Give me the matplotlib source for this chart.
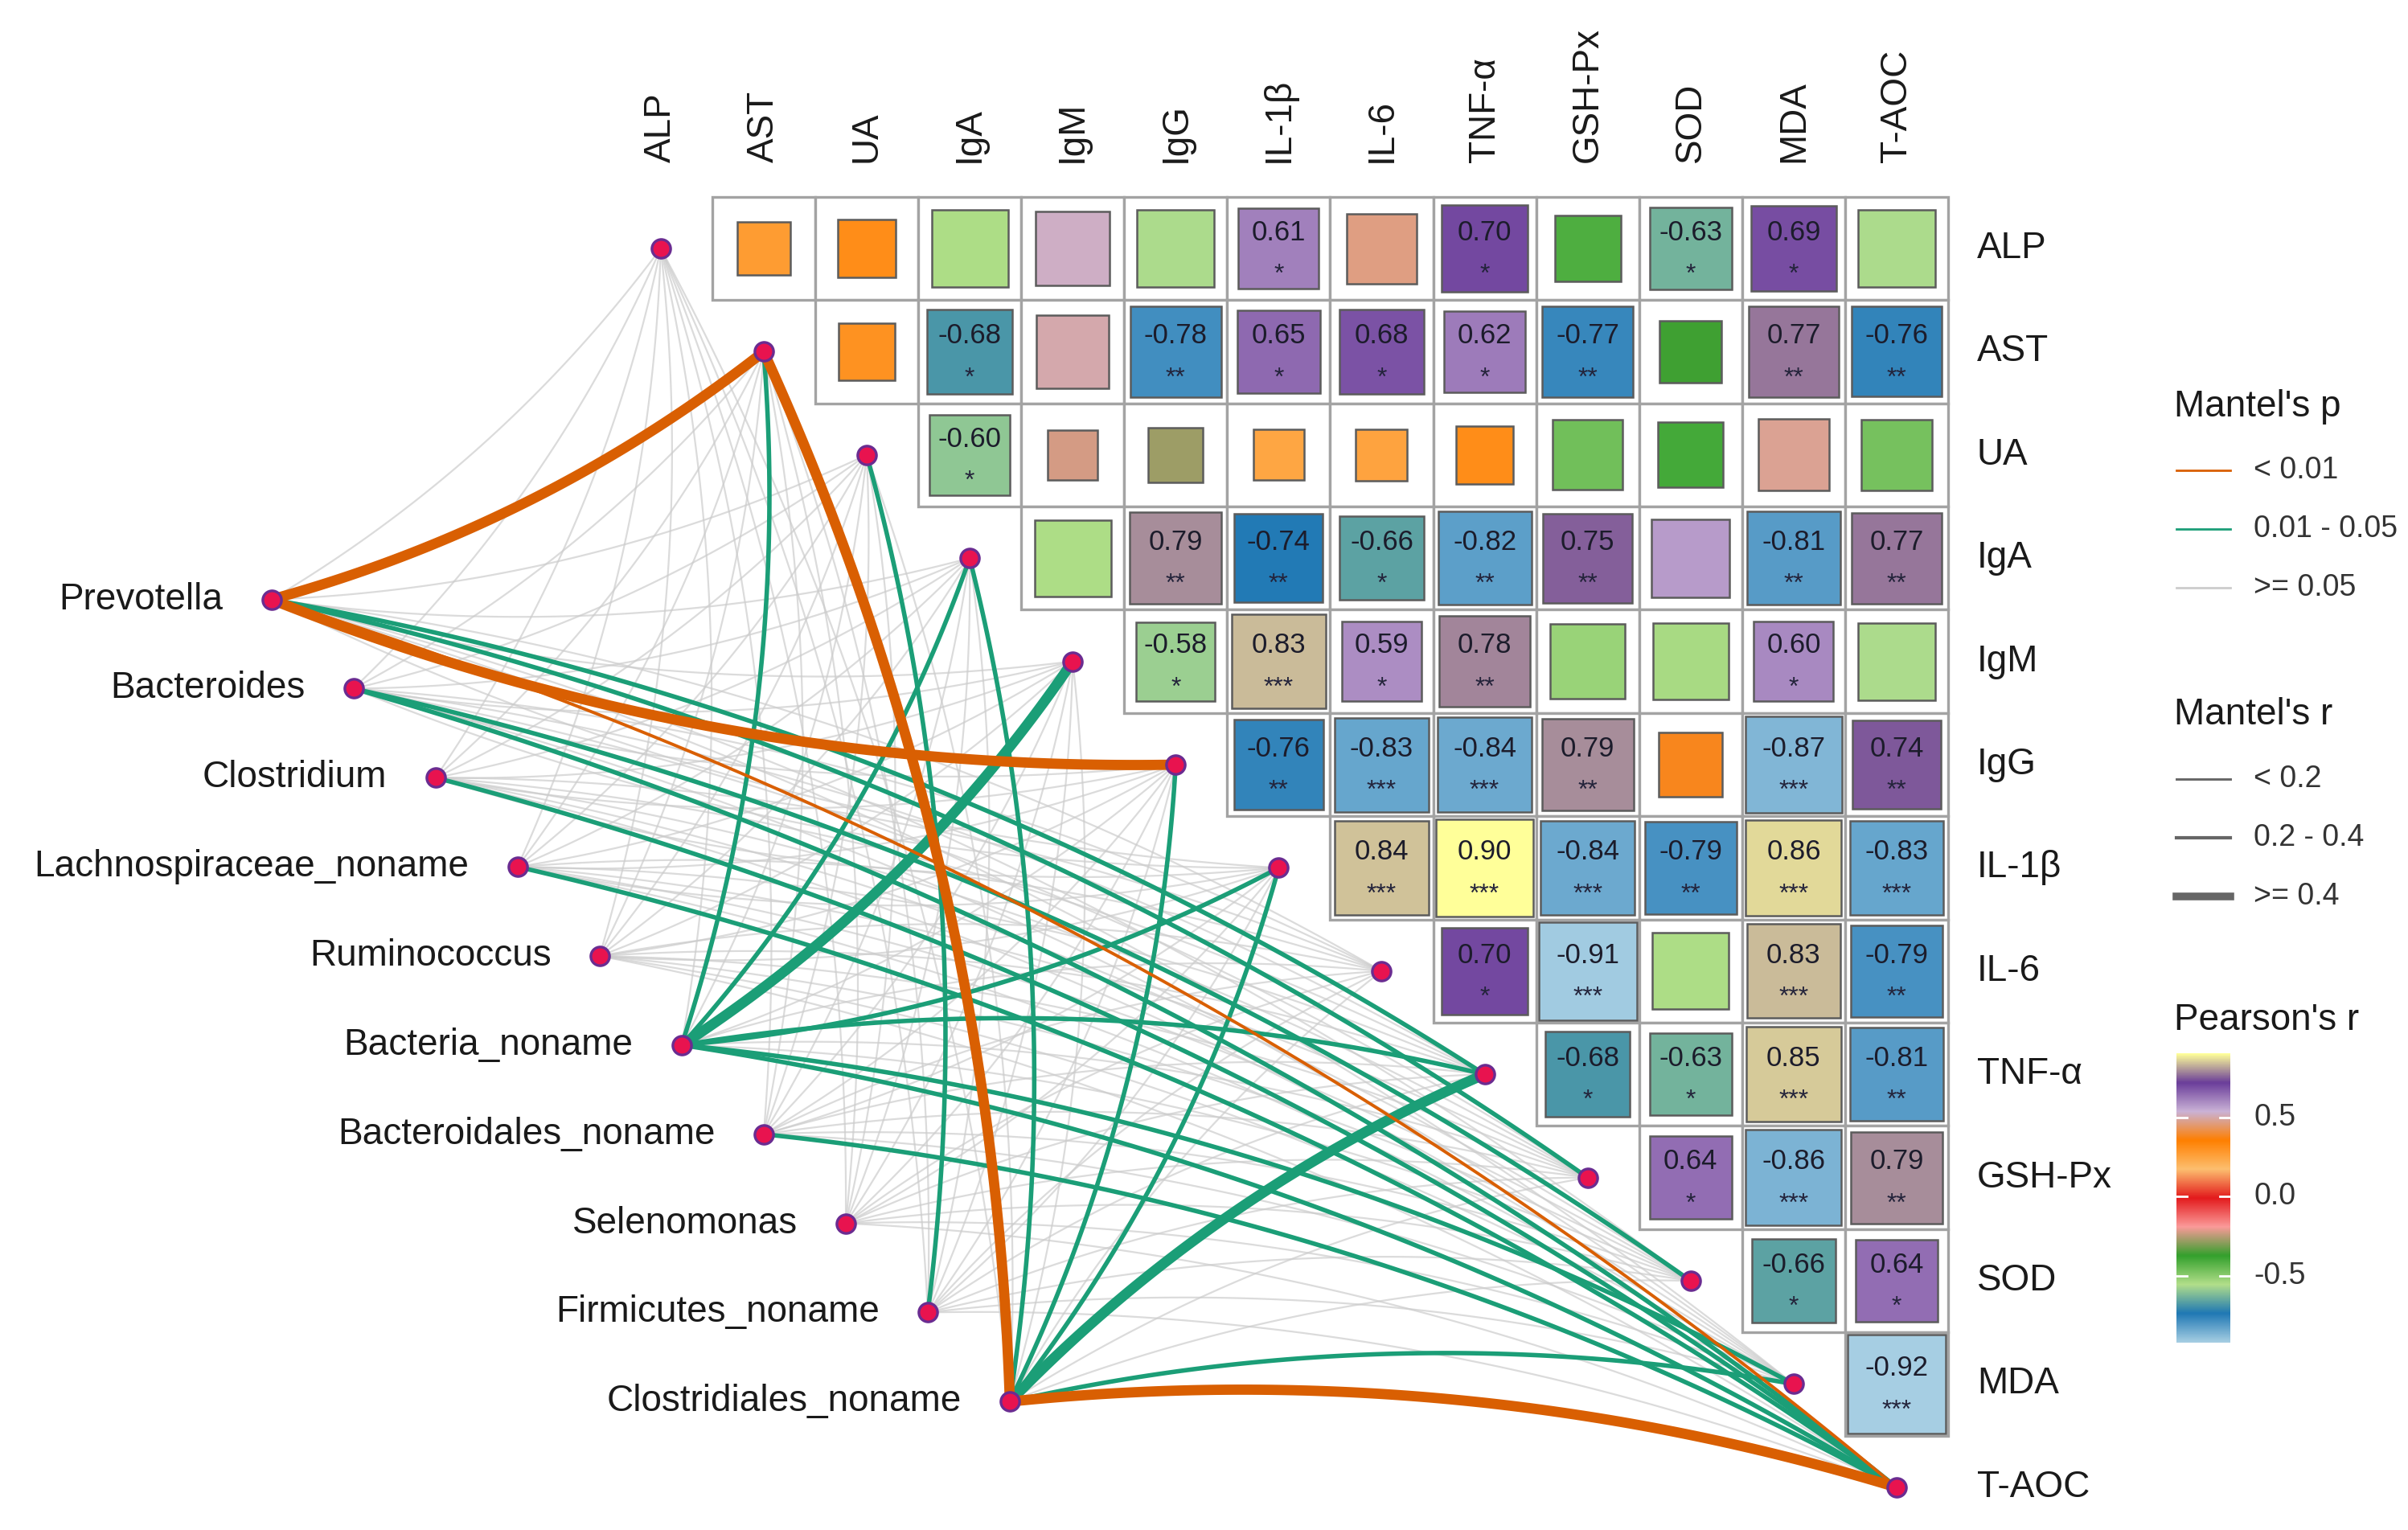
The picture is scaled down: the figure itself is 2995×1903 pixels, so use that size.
"""Mantel test links between taxa and host variables, joined to a Pearson heatmap."""

import numpy as np
import matplotlib.pyplot as plt
from matplotlib.colors import LinearSegmentedColormap, Normalize
from matplotlib.patches import Rectangle

plt.rcParams["font.family"] = ["Liberation Sans", "DejaVu Sans"]

env_vars = ["ALP", "AST", "UA", "IgA", "IgM", "IgG", "IL-1β", "IL-6",
            "TNF-α", "GSH-Px", "SOD", "MDA", "T-AOC"]

taxa = ["Prevotella", "Bacteroides", "Clostridium", "Lachnospiraceae_noname",
        "Ruminococcus", "Bacteria_noname", "Bacteroidales_noname",
        "Selenomonas", "Firmicutes_noname", "Clostridiales_noname"]

# upper triangle of Pearson's r: row i holds columns i+1 .. 12
pearson_r = [
    [0.27, 0.31, -0.55, 0.52, -0.56, 0.61, 0.46, 0.70, -0.41, -0.63, 0.69, -0.56],
    [0.30, -0.68, 0.50, -0.78, 0.65, 0.68, 0.62, -0.77, -0.36, 0.77, -0.76],
    [-0.60, -0.23, -0.28, 0.24, 0.25, 0.31, -0.46, -0.40, 0.48, -0.47],
    [-0.55, 0.79, -0.74, -0.66, -0.82, 0.75, 0.57, -0.81, 0.77],
    [-0.58, 0.83, 0.59, 0.78, -0.52, -0.54, 0.60, -0.56],
    [-0.76, -0.83, -0.84, 0.79, 0.38, -0.87, 0.74],
    [0.84, 0.90, -0.84, -0.79, 0.86, -0.83],
    [0.70, -0.91, -0.55, 0.83, -0.79],
    [-0.68, -0.63, 0.85, -0.81],
    [0.64, -0.86, 0.79],
    [-0.66, 0.64],
    [-0.92],
]
pearson_stars = [
    ["", "", "", "", "", "*", "", "*", "", "*", "*", ""],
    ["", "*", "", "**", "*", "*", "*", "**", "", "**", "**"],
    ["*", "", "", "", "", "", "", "", "", ""],
    ["", "**", "**", "*", "**", "**", "", "**", "**"],
    ["*", "***", "*", "**", "", "", "*", ""],
    ["**", "***", "***", "**", "", "***", "**"],
    ["***", "***", "***", "**", "***", "***"],
    ["*", "***", "", "***", "**"],
    ["*", "*", "***", "**"],
    ["*", "***", "**"],
    ["*", "*"],
    ["***"],
]

# Mantel's p class per taxon (rows) and variable (columns)
# 0 = < 0.01, 1 = 0.01 - 0.05, 2 = >= 0.05
mantel_p = [
    [2, 0, 2, 2, 2, 0, 2, 2, 1, 1, 2, 2, 0],
    [2, 2, 2, 2, 2, 2, 2, 2, 2, 2, 1, 2, 1],
    [2, 2, 2, 2, 2, 2, 2, 2, 2, 2, 2, 2, 1],
    [2, 2, 2, 2, 2, 2, 2, 2, 2, 2, 2, 2, 1],
    [2, 2, 2, 2, 2, 2, 2, 2, 2, 2, 2, 2, 2],
    [2, 1, 2, 1, 1, 2, 1, 2, 1, 2, 2, 1, 1],
    [2, 2, 2, 2, 2, 2, 2, 2, 2, 2, 2, 2, 1],
    [2, 2, 2, 2, 2, 2, 2, 2, 2, 2, 2, 2, 2],
    [2, 2, 1, 2, 2, 2, 2, 2, 2, 2, 2, 2, 2],
    [2, 0, 2, 1, 2, 1, 1, 2, 1, 2, 2, 1, 0],
]
# Mantel's r class: 0 = < 0.2, 1 = 0.2 - 0.4, 2 = >= 0.4
mantel_r = [
    [0, 2, 0, 0, 0, 2, 0, 0, 1, 1, 0, 0, 0],
    [0, 0, 0, 0, 0, 0, 0, 0, 0, 0, 1, 0, 1],
    [0, 0, 0, 0, 0, 0, 0, 0, 0, 0, 0, 0, 1],
    [0, 0, 0, 0, 0, 0, 0, 0, 0, 0, 0, 0, 1],
    [0, 0, 0, 0, 0, 0, 0, 0, 0, 0, 0, 0, 0],
    [0, 1, 0, 1, 2, 0, 1, 0, 1, 0, 0, 1, 1],
    [0, 0, 0, 0, 0, 0, 0, 0, 0, 0, 0, 0, 1],
    [0, 0, 0, 0, 0, 0, 0, 0, 0, 0, 0, 0, 0],
    [0, 0, 1, 0, 0, 0, 0, 0, 0, 0, 0, 0, 0],
    [0, 2, 0, 1, 0, 1, 1, 0, 2, 0, 0, 1, 2],
]

p_labels = ["< 0.01", "0.01 - 0.05", ">= 0.05"]
p_colors = ["#D95F02", "#1B9E77", "#CCCCCC"]
r_labels = ["< 0.2", "0.2 - 0.4", ">= 0.4"]
r_widths = [1.4, 2.0, 4.6]
paired = ["#A6CEE3", "#1F78B4", "#B2DF8A", "#33A02C", "#FB9A99", "#E31A1C",
          "#FDBF6F", "#FF7F00", "#CAB2D6", "#6A3D9A", "#FFFF99"]

TEXT = "#1a1a1a"


def _curve(start, end, bend, n=80):
    """Quadratic curve between two points, bent to one side of the chord."""
    p0 = np.asarray(start, dtype=float)
    p2 = np.asarray(end, dtype=float)
    d = p2 - p0
    length = np.hypot(*d)
    normal = np.array([d[1], -d[0]]) / length  # left of travel, y pointing down
    ctrl = (p0 + p2) / 2 + bend * 0.1 * length * normal
    t = np.linspace(0, 1, n)[:, None]
    pts = (1 - t) ** 2 * p0 + 2 * t * (1 - t) * ctrl + t ** 2 * p2
    return pts[:, 0], pts[:, 1]


all_r = np.concatenate([np.asarray(row) for row in pearson_r])
norm = Normalize(vmin=all_r.min(), vmax=all_r.max())
cmap = LinearSegmentedColormap.from_list("paired11", paired)

fig = plt.figure(figsize=(2995 / 200, 1903 / 200), dpi=200)
ax = fig.add_axes([0, 0, 1, 1])
ax.axis("off")

n_env = len(env_vars)
env_pos = np.arange(n_env, dtype=float)
taxa_x = np.linspace(-3.78, 3.39, len(taxa))
taxa_y = np.linspace(3.40, 11.17, len(taxa))

# links, non-significant first so the coloured ones sit on top
for p_class in (2, 1, 0):
    for a in range(len(taxa)):
        for e in range(n_env):
            if mantel_p[a][e] != p_class:
                continue
            bend = -1 if e <= 6 else 1
            xs, ys = _curve((taxa_x[a], taxa_y[a]), (env_pos[e], env_pos[e]), bend)
            width = r_widths[mantel_r[a][e]]
            if p_class == 2:
                ax.plot(xs, ys, color=p_colors[p_class], lw=0.8, alpha=0.7, zorder=1)
            else:
                ax.plot(xs, ys, color=p_colors[p_class], lw=width, zorder=3 - p_class,
                        solid_capstyle="round")

# heatmap cells
for i, (row_r, row_s) in enumerate(zip(pearson_r, pearson_stars)):
    for k, (r, s) in enumerate(zip(row_r, row_s)):
        j = i + 1 + k
        ax.add_patch(Rectangle((j - 0.5, i - 0.5), 1, 1, facecolor="white",
                               edgecolor="#a3a3a3", lw=1.2, zorder=4))
        side = np.sqrt(abs(r))
        ax.add_patch(Rectangle((j - side / 2, i - side / 2), side, side,
                               facecolor=cmap(norm(r)), edgecolor="#5c5c5c",
                               lw=0.9, zorder=5))
        if s:
            ax.text(j, i - 0.08, f"{r:.2f}", ha="center", va="baseline",
                    fontsize=12.5, color="#1c1c2b", zorder=6)
            ax.text(j, i + 0.32, s, ha="center", va="baseline",
                    fontsize=11.5, color="#23233a", zorder=6)

# nodes
ax.scatter(env_pos, env_pos, s=70, color="#E8134F", edgecolor="#6A2C91",
           linewidth=1.2, zorder=7)
ax.scatter(taxa_x, taxa_y, s=70, color="#E8134F", edgecolor="#6A2C91",
           linewidth=1.2, zorder=7)

# labels
for j, name in enumerate(env_vars):
    ax.text(j, -0.83, name, rotation=90, ha="center", va="bottom",
            fontsize=16.5, color=TEXT)
    ax.text(12.78, j, name, ha="left", va="center", fontsize=16.5, color=TEXT)
for x, y, name in zip(taxa_x, taxa_y, taxa):
    ax.text(x - 0.47, y, name, ha="right", va="center", fontsize=16.5, color=TEXT)

# legends
key_x0, key_x1, key_tx, title_x = 14.72, 15.24, 15.47, 14.69
ax.text(title_x, 1.53, "Mantel's p", fontsize=16.5, va="center", color=TEXT)
for k, (lab, col) in enumerate(zip(p_labels, p_colors)):
    y = 2.15 + 0.57 * k
    ax.plot([key_x0, key_x1], [y, y], color=col, lw=1.0)
    ax.text(key_tx, y, lab, fontsize=13.5, va="center", color="#333333")

ax.text(title_x, 4.52, "Mantel's r", fontsize=16.5, va="center", color=TEXT)
for k, (lab, w) in enumerate(zip(r_labels, r_widths)):
    y = 5.14 + 0.57 * k
    ax.plot([key_x0, key_x1], [y, y], color="#666666", lw=w * 0.75)
    ax.text(key_tx, y, lab, fontsize=13.5, va="center", color="#333333")

ax.text(title_x, 7.48, "Pearson's r", fontsize=16.5, va="center", color=TEXT)
bar_top, bar_bottom = 7.80, 10.60
grad = np.linspace(norm.vmax, norm.vmin, 256)[:, None]
ax.imshow(grad, cmap=cmap, norm=norm, extent=(key_x0, key_x1, bar_bottom, bar_top),
          aspect="auto", zorder=4)
for v in (0.5, 0.0, -0.5):
    y = bar_bottom - (v - norm.vmin) / (norm.vmax - norm.vmin) * (bar_bottom - bar_top)
    ax.plot([key_x0, key_x0 + 0.1], [y, y], color="white", lw=1.0, zorder=5)
    ax.plot([key_x1 - 0.1, key_x1], [y, y], color="white", lw=1.0, zorder=5)
    ax.text(key_tx, y, f"{v:.1f}", fontsize=13.5, va="center", color="#333333")

ax.set_xlim(-6.415, 16.965)
ax.set_ylim(12.414, -2.407)

fig.savefig("out.png", dpi=200, facecolor="white")
